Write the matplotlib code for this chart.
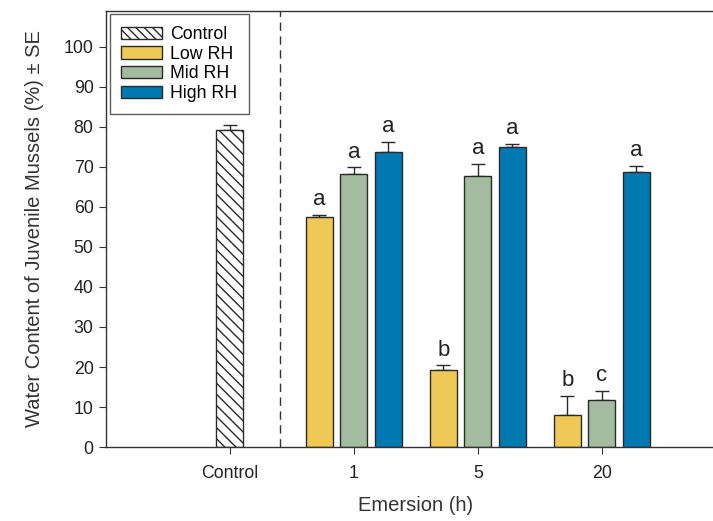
import numpy as np
import matplotlib
matplotlib.use('Agg')
from matplotlib import pyplot as plt
from matplotlib.patches import Patch

plt.rcParams['font.family'] = ['Liberation Sans', 'DejaVu Sans']
plt.rcParams['hatch.linewidth'] = 1.0

# Data
groups = ['1', '5', '20']
series = ['Low RH', 'Mid RH', 'High RH']
colors = ['#EEC955', '#A3BC9F', '#0078B0']

control_mean = 79.2
control_se = 1.2

means = {
    'Low RH': [57.4, 19.3, 8.0],
    'Mid RH': [68.3, 67.8, 11.7],
    'High RH': [73.8, 75.1, 68.7],
}
ses = {
    'Low RH': [0.6, 1.1, 4.8],
    'Mid RH': [1.6, 3.0, 2.4],
    'High RH': [2.4, 0.6, 1.5],
}
letters = {
    'Low RH': ['a', 'b', 'b'],
    'Mid RH': ['a', 'a', 'c'],
    'High RH': ['a', 'a', 'a'],
}

fig = plt.figure(figsize=(7.13, 5.21), dpi=100)
ax = fig.add_axes([0.1487, 0.142, 0.869, 0.837])

width = 0.218
offset = 0.278
edge = '#2a2a2a'
err_kw = dict(ecolor=edge, elinewidth=1.0, capsize=5, capthick=1.0)

# Control bar (hatched)
ax.bar(0, control_mean, width, color='white', edgecolor=edge, hatch='\\\\\\',
       linewidth=1.0, zorder=2)
ax.errorbar(0, control_mean, yerr=[[0], [control_se]], fmt='none', zorder=1, **err_kw)

x = np.arange(1, len(groups) + 1)
for i, s in enumerate(series):
    xs = x + (i - 1) * offset
    m = np.array(means[s])
    e = np.array(ses[s])
    ax.bar(xs, m, width, color=colors[i], edgecolor=edge, linewidth=1.0, zorder=2)
    ax.errorbar(xs, m, yerr=[np.zeros_like(e), e], fmt='none', zorder=1, **err_kw)
    for xi, mi, ei, lab in zip(xs, m, e, letters[s]):
        ax.text(xi, mi + ei + 1.2, lab, ha='center', va='bottom', fontsize=16,
                color='#222222')

# dashed separator
ax.axvline(0.4, color='#333333', linestyle=(0, (6, 4)), linewidth=1.0)

ax.set_xlim(-1, 4)
ax.set_ylim(0, 109)
ax.set_yticks(np.arange(0, 101, 10))
ax.set_xticks([0] + list(x))
ax.set_xticklabels(['Control'] + groups)
ax.tick_params(axis='both', labelsize=12.8, direction='out', length=5,
               color='#333333', labelcolor='#222222')
ax.tick_params(axis='x', pad=8)
ax.tick_params(axis='y', pad=4)
ax.spines['right'].set_visible(False)
for sp in ['left', 'bottom', 'top']:
    ax.spines[sp].set_color('#333333')
    ax.spines[sp].set_linewidth(1.0)

ax.set_ylabel('Water Content of Juvenile Mussels (%) \u00b1 SE', fontsize=14.5,
              color='#333333', labelpad=14)
ax.set_xlabel('Emersion (h)', fontsize=14.5, color='#333333', labelpad=10)

handles = [Patch(facecolor='white', edgecolor=edge, hatch='\\\\\\\\', label='Control')]
handles += [Patch(facecolor=c, edgecolor=edge, label=s) for c, s in zip(colors, series)]
leg = ax.legend(handles=handles, loc='upper left', fontsize=12.8, frameon=True,
                fancybox=False, edgecolor='#333333', borderaxespad=0.2,
                handlelength=2.3, handleheight=0.7, labelspacing=0.15,
                borderpad=0.65, handletextpad=0.45)
leg.get_frame().set_linewidth(1.0)

fig.savefig('out.png', dpi=100)
